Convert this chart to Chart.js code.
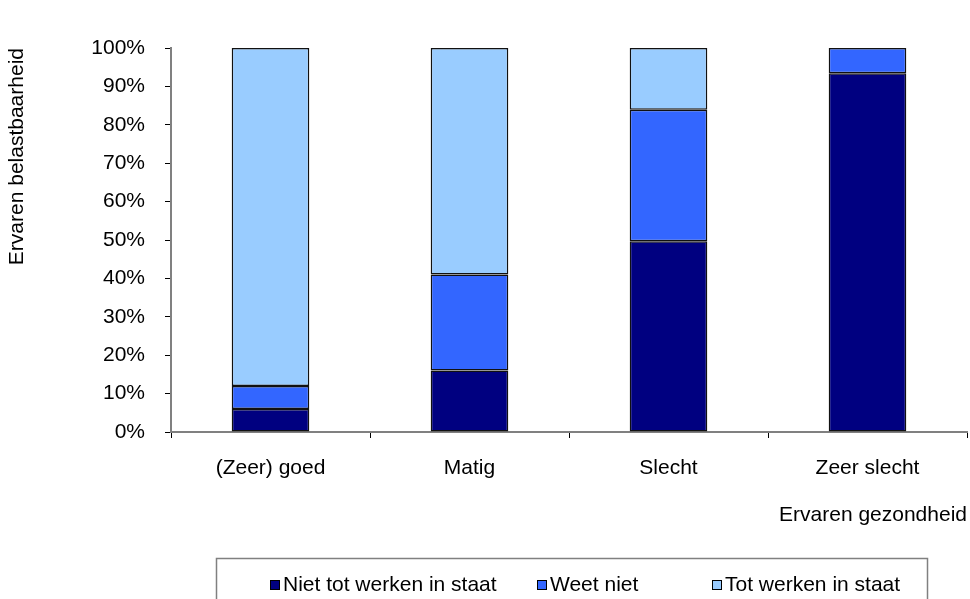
<!DOCTYPE html>
<html>
<head>
<meta charset="utf-8">
<script src="https://cdn.jsdelivr.net/npm/chart.js@4"></script>
<style>
  html, body { margin: 0; padding: 0; background: #fff; }
  #wrap { width: 970px; height: 599px; }
</style>
</head>
<body>
<div id="wrap"><canvas id="grafiek"></canvas></div>
<script>
// Ervaren gezondheid x ervaren belastbaarheid (in %)
const categorieen = ['(Zeer) goed', 'Matig', 'Slecht', 'Zeer slecht'];
const nietTotWerken = [6, 16, 49.7, 93.4];
const weetNiet = [6, 25, 34.2, 6.6];
const totWerken = [88, 59, 16.1, 0];
const yTicks = [0, 10, 20, 30, 40, 50, 60, 70, 80, 90, 100];

const FONT = 'Liberation Sans, Arial, sans-serif';

// legenda in een kader onderaan (zoals in Excel)
const legendaX = [270, 537, 712];
const kaderLegenda = {
    id: 'kaderLegenda',
    afterDraw(chart) {
        const ctx = chart.ctx;
        ctx.save();
        ctx.strokeStyle = '#808080';
        ctx.lineWidth = 1.5;
        ctx.strokeRect(216.5, 558.5, 711, 60);

        ctx.font = '21px ' + FONT;
        ctx.textBaseline = 'middle';
        const y = 585;
        chart.data.datasets.forEach((ds, i) => {
            const x = legendaX[i];
            ctx.fillStyle = ds.backgroundColor;
            ctx.fillRect(x, y - 5, 10, 10);
            ctx.strokeStyle = '#000';
            ctx.lineWidth = 1;
            ctx.strokeRect(x + 0.5, y - 4.5, 9, 9);
            ctx.fillStyle = '#000';
            ctx.fillText(ds.label, x + 13, y);
        });
        ctx.restore();
    }
};

const ctx = document.getElementById('grafiek');
new Chart(ctx, {
    type: 'bar',
    data: {
        labels: categorieen,
        datasets: [
            { label: 'Niet tot werken in staat', data: nietTotWerken, backgroundColor: '#000080' },
            { label: 'Weet niet', data: weetNiet, backgroundColor: '#3366FF' },
            { label: 'Tot werken in staat', data: totWerken, backgroundColor: '#99CCFF' }
        ]
    },
    options: {
        responsive: true,
        maintainAspectRatio: false,
        animation: false,
        layout: { padding: { top: 48, right: 3, left: 0, bottom: 0 } },
        datasets: {
            bar: {
                categoryPercentage: 1,
                barPercentage: 0.39,
                borderColor: '#111',
                borderWidth: 1.5,
                borderSkipped: false
            }
        },
        plugins: {
            legend: { display: false },
            tooltip: { enabled: false }
        },
        scales: {
            x: {
                stacked: true,
                grid: { drawOnChartArea: false, drawTicks: true, tickLength: 6, color: '#000', offset: true },
                border: { color: '#808080', width: 2 },
                ticks: { color: '#000', padding: 18, font: { family: FONT, size: 21 } },
                title: {
                    display: true,
                    text: 'Ervaren gezondheid',
                    align: 'end',
                    color: '#000',
                    font: { family: FONT, size: 21 },
                    padding: { top: 0, bottom: 71 }
                },
                afterFit(scale) { scale.height = 167; }
            },
            y: {
                stacked: true,
                min: 0,
                max: 100,
                afterBuildTicks(scale) { scale.ticks = yTicks.map(v => ({ value: v })); },
                grid: { drawOnChartArea: false, drawTicks: true, tickLength: 6, color: '#000' },
                border: { color: '#808080', width: 2 },
                ticks: {
                    color: '#000',
                    padding: 20,
                    font: { family: FONT, size: 21 },
                    callback: v => v + '%'
                },
                title: {
                    display: true,
                    text: 'Ervaren belastbaarheid',
                    align: 'end',
                    color: '#000',
                    font: { family: FONT, size: 21 },
                    padding: { top: 5, bottom: 0 }
                },
                afterFit(scale) { scale.width = 171; }
            }
        }
    },
    plugins: [kaderLegenda]
});
</script>
</body>
</html>
